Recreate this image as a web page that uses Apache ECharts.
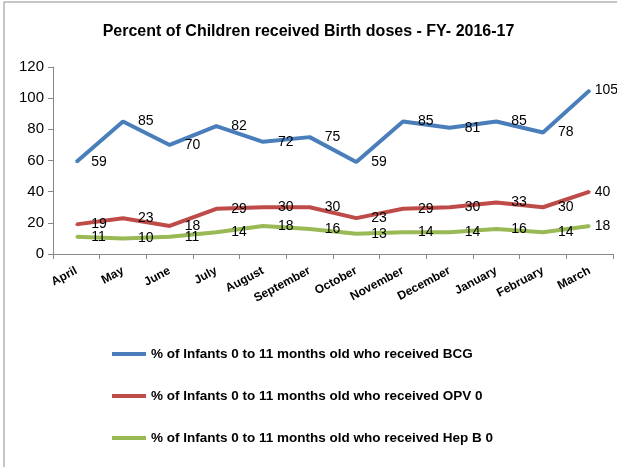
<!DOCTYPE html>
<html>
<head>
<meta charset="utf-8">
<script src="https://cdn.jsdelivr.net/npm/echarts@6/dist/echarts.min.js"></script>
<style>
  html, body { margin: 0; padding: 0; background: #fff; }
  #main { width: 617px; height: 467px; }
</style>
</head>
<body>
<div id="main"></div>
<script>
var months = ['April', 'May', 'June', 'July', 'August', 'September', 'October', 'November', 'December', 'January', 'February', 'March'];
var bcg = [59, 85, 70, 82, 72, 75, 59, 85, 81, 85, 78, 105];
var opv = [19, 23, 18, 29, 30, 30, 23, 29, 30, 33, 30, 40];
var hepb = [11, 10, 11, 14, 18, 16, 13, 14, 14, 16, 14, 18];
var yTicks = [0, 20, 40, 60, 80, 100, 120];

var font = 'Liberation Sans';

function makeSeries(name, values, color) {
  return {
    name: name,
    type: 'line',
    data: values.map(function (v, i) {
      var item = { value: v };
      if (i === values.length - 1) item.label = { distance: 4 };
      return item;
    }),
    symbol: 'circle',
    symbolSize: 2,
    showSymbol: true,
    lineStyle: { width: 4, color: color },
    itemStyle: { color: color },
    label: {
      show: true,
      position: 'right',
      distance: 14,
      color: '#000',
      fontFamily: font,
      fontSize: 14
    }
  };
}

var myChart = echarts.init(document.getElementById('main'));
var option = {
  backgroundColor: '#fff',
  animation: false,
  graphic: [{
    type: 'rect',
    shape: { x: 4, y: 2, width: 700, height: 700 },
    style: { fill: 'none', stroke: '#8c8c8c', lineWidth: 1 },
    silent: true
  }],
  title: {
    text: 'Percent of Children received Birth doses - FY- 2016-17',
    left: 'center',
    top: 19,
    textStyle: { fontFamily: font, fontWeight: 'bold', fontSize: 16, color: '#000' }
  },
  legend: {
    orient: 'vertical',
    left: 112,
    top: 347,
    padding: 0,
    itemWidth: 34,
    itemHeight: 4,
    itemGap: 28,
    icon: 'rect',
    textStyle: { fontFamily: font, fontWeight: 'bold', fontSize: 13.5, color: '#000' }
  },
  grid: { left: 53, right: 4, top: 67, bottom: 213 },
  xAxis: {
    type: 'category',
    data: months,
    boundaryGap: true,
    axisLine: { lineStyle: { color: '#888' } },
    axisTick: { show: true, length: 5, lineStyle: { color: '#888' } },
    axisLabel: {
      rotate: 28,
      margin: 16,
      color: '#000',
      fontFamily: font,
      fontWeight: 'bold',
      fontSize: 12,
      interval: 0
    }
  },
  yAxis: {
    type: 'value',
    min: yTicks[0],
    max: yTicks[yTicks.length - 1],
    interval: 20,
    axisLine: { show: true, lineStyle: { color: '#888' } },
    axisTick: { show: true, length: 5, lineStyle: { color: '#888' } },
    splitLine: { show: false },
    axisLabel: { color: '#000', fontFamily: font, fontSize: 15, margin: 9 }
  },
  series: [
    makeSeries('% of Infants 0 to 11 months old who received BCG', bcg, '#4a7ebb'),
    makeSeries('% of Infants 0 to 11 months old who received OPV 0', opv, '#be4b48'),
    makeSeries('% of Infants 0 to 11 months old who received Hep B 0', hepb, '#98b954')
  ]
};
myChart.setOption(option);
</script>
</body>
</html>
